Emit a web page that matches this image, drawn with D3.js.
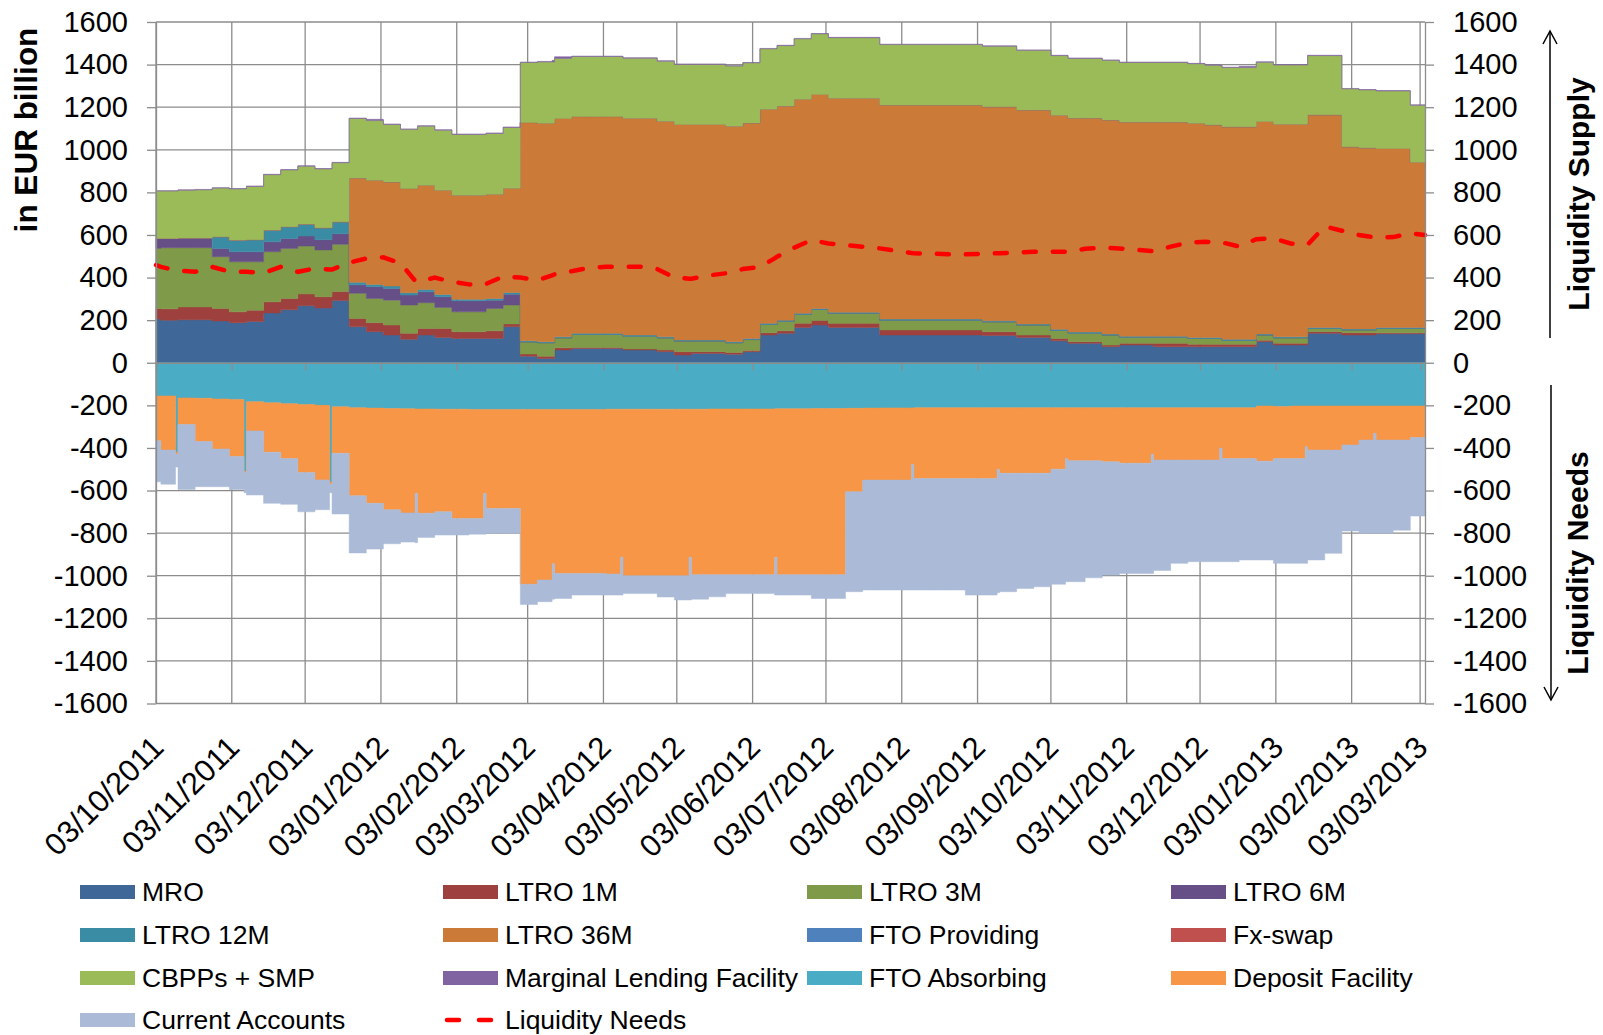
<!DOCTYPE html>
<html>
  <head>
    <meta charset="utf-8">
    <title>Eurosystem liquidity supply and liquidity needs</title>
    <script src="https://d3js.org/d3.v7.min.js"></script>
    <style>
      body { margin: 0; background: #fff; }
      text { font-family: Arial, "Liberation Sans", sans-serif; fill: #000; }
      .grid line { stroke: #8c8c8c; stroke-width: 1.3; }
      .axis path, .axis line { stroke: #8c8c8c; stroke-width: 1.3; }
      .axis text { font-size: 29px; }
      .legend text { font-size: 26.5px; }
    </style>
  </head>
  <body>
    <div id="chart"></div>
    <script>

      // one row per weekly MRO settlement, plus the last day of each maintenance period
      var dates = [
        "2011-10-03","2011-10-05","2011-10-11","2011-10-12","2011-10-19","2011-10-26","2011-11-02","2011-11-08","2011-11-09","2011-11-16",
        "2011-11-23","2011-11-30","2011-12-07","2011-12-13","2011-12-14","2011-12-21","2011-12-28","2012-01-04","2012-01-11","2012-01-17",
        "2012-01-18","2012-01-25","2012-02-01","2012-02-08","2012-02-14","2012-02-15","2012-02-22","2012-02-29","2012-03-07","2012-03-13",
        "2012-03-14","2012-03-21","2012-03-28","2012-04-04","2012-04-10","2012-04-11","2012-04-18","2012-04-25","2012-05-02","2012-05-08",
        "2012-05-09","2012-05-16","2012-05-23","2012-05-30","2012-06-06","2012-06-12","2012-06-13","2012-06-20","2012-06-27","2012-07-04",
        "2012-07-11","2012-07-18","2012-07-25","2012-08-01","2012-08-07","2012-08-08","2012-08-15","2012-08-22","2012-08-29","2012-09-05",
        "2012-09-11","2012-09-12","2012-09-19","2012-09-26","2012-10-03","2012-10-09","2012-10-10","2012-10-17","2012-10-24","2012-10-31",
        "2012-11-07","2012-11-13","2012-11-14","2012-11-21","2012-11-28","2012-12-05","2012-12-11","2012-12-12","2012-12-19","2012-12-26",
        "2013-01-02","2013-01-09","2013-01-15","2013-01-16","2013-01-23","2013-01-30","2013-02-06","2013-02-12","2013-02-13","2013-02-20",
        "2013-02-27","2013-03-05"
      ];

      var mro = [
        205,200,200,202,202,196,188,188,194,234,
        249,268,257,257,292,169,146,130,110,110,
        130,119,114,114,114,114,169,31,20,20,
        60,67,67,67,67,60,60,52,36,36,
        44,44,40,52,130,130,138,166,177,166,
        166,166,130,130,130,130,130,130,130,128,
        128,128,119,119,103,103,91,91,75,83,
        83,83,75,75,75,75,75,75,75,99,
        83,83,83,138,138,130,130,130,136,136,
        136,136
      ];

      var ltro1m = [
        50,53,53,60,60,59,51,51,53,52,
        53,55,53,53,42,39,42,47,28,28,
        31,42,32,32,32,36,13,10,10,10,
        10,5,5,5,5,5,5,8,16,16,
        8,8,8,6,11,11,12,19,21,19,
        19,19,24,24,24,24,24,24,24,18,
        18,18,11,11,11,11,8,8,8,8,
        8,8,16,16,12,12,12,12,12,7,
        9,9,9,8,8,11,11,11,5,5,
        5,5
      ];

      var ltro3m = [
        282,287,287,278,278,243,235,235,227,235,
        235,225,220,220,222,118,114,117,133,133,
        121,99,93,93,93,105,89,57,64,64,
        47,61,61,61,61,60,60,57,50,50,
        50,50,46,51,39,39,45,42,52,47,
        47,47,46,46,46,46,46,46,46,46,
        46,46,47,47,38,38,40,40,47,29,
        29,29,29,29,27,27,27,18,18,24,
        25,25,25,15,15,13,13,13,20,20,
        20,20
      ];

      var ltro6m = [
        47,44,44,46,46,39,47,47,47,47,
        47,47,48,48,50,40,55,55,47,47,
        51,50,52,52,52,39,51,0,0,0,
        0,0,0,0,0,0,0,0,0,0,
        0,0,0,0,0,0,0,0,0,0,
        0,0,0,0,0,0,0,0,0,0,
        0,0,0,0,0,0,0,0,0,0,
        0,0,0,0,0,0,0,0,0,0,
        0,0,0,0,0,0,0,0,0,0,
        0,0
      ];

      var ltro12m = [
        0,0,0,0,0,55,55,55,57,55,
        55,56,56,56,56,12,11,11,11,11,
        11,11,7,7,7,8,8,5,5,5,
        5,5,5,5,5,5,5,5,5,5,
        5,5,5,5,5,5,5,5,5,5,
        5,5,5,5,5,5,5,5,5,5,
        5,5,5,5,5,5,5,5,5,5,
        5,5,5,5,5,5,5,5,5,5,
        5,5,5,5,5,5,5,5,5,5,
        5,5
      ];

      var ltro36m = [
        0,0,0,0,0,0,0,0,0,0,
        0,0,0,0,0,489,489,489,489,489,
        489,489,489,489,489,489,489,1025,1025,1025,
        1025,1018,1018,1018,1018,1018,1018,1012,1012,1012,
        1012,1012,1012,1012,1005,1005,1005,1005,1005,1005,
        1005,1005,1005,1005,1005,1005,1005,1005,1005,1005,
        1005,1005,1005,1005,1005,1005,1005,1005,1005,1005,
        1005,1005,1005,1005,1005,998,998,998,998,998,
        998,998,998,998,998,855,850,850,840,840,
        775,775
      ];

      var ftoProviding = [
        0,0,0,0,0,0,0,0,0,0,
        0,0,0,0,0,0,0,0,0,0,
        0,0,0,0,0,0,0,0,0,0,
        0,0,0,0,0,0,0,0,0,0,
        0,0,0,0,0,0,0,0,0,0,
        0,0,0,0,0,0,0,0,0,0,
        0,0,0,0,0,0,0,0,0,0,
        0,0,0,0,0,0,0,0,0,0,
        0,0,0,0,0,0,0,0,0,0,
        0,0
      ];

      var fxSwap = [
        0,0,0,0,0,0,0,0,0,0,
        0,0,0,0,0,0,0,0,0,0,
        0,0,0,0,0,0,0,0,0,0,
        0,0,0,0,0,0,0,0,0,0,
        0,0,0,0,0,0,0,0,0,0,
        0,0,0,0,0,0,0,0,0,0,
        0,0,0,0,0,0,0,0,0,0,
        0,0,0,0,0,0,0,0,0,0,
        0,0,0,0,0,0,0,0,0,0,
        0,0
      ];

      var cbppSmp = [
        222,222,222,224,226,228,240,240,250,260,
        266,272,276,276,277,280,280,270,278,278,
        278,282,285,285,285,286,286,282,288,288,
        282,282,282,282,282,282,282,282,282,282,
        282,282,282,282,284,284,284,284,284,284,
        284,284,284,284,284,284,284,284,284,284,
        284,284,280,280,280,280,280,280,280,280,
        280,280,280,280,280,280,278,278,278,278,
        278,278,278,278,278,272,272,272,270,270,
        268,268
      ];

      var mlf = [
        2,2,2,2,2,2,2,2,2,2,
        2,2,2,2,2,2,6,2,2,2,
        2,2,2,2,2,2,2,2,3,8,
        8,2,2,2,2,2,2,2,2,2,
        2,2,2,2,2,2,2,2,2,2,
        2,2,2,2,2,2,2,2,2,2,
        2,2,2,2,2,2,2,2,2,2,
        2,2,2,2,2,2,2,2,6,2,
        2,2,2,2,2,2,2,2,2,2,
        2,2
      ];

      var ftoAbsorbing = [
        -156,-156,-420,-165,-167,-170,-173,-510,-183,-188,
        -192,-196,-200,-560,-207,-211,-213,-215,-216,-217,
        -217,-218,-218,-219,-219,-219,-219,-219,-219,-219,
        -219,-219,-219,-218,-218,-218,-218,-218,-218,-218,
        -218,-217,-217,-217,-217,-216,-216,-216,-215,-215,
        -214,-213,-212,-212,-212,-211,-211,-211,-211,-211,
        -211,-211,-211,-211,-211,-211,-211,-211,-211,-211,
        -211,-211,-211,-211,-211,-211,-211,-211,-211,-203,
        -205,-203,-203,-203,-203,-203,-203,-203,-203,-203,
        -203,-203
      ];

      var depositFacility = [
        -210,-254,-10,-125,-203,-235,-267,-5,-137,-232,
        -258,-319,-350,-10,-218,-414,-447,-475,-489,-396,
        -490,-482,-513,-512,-394,-465,-465,-821,-801,-725,
        -770,-770,-770,-774,-695,-782,-782,-782,-782,-695,
        -777,-778,-778,-778,-778,-697,-779,-779,-780,-780,
        -392,-338,-339,-339,-266,-333,-333,-333,-333,-333,
        -289,-308,-308,-308,-289,-239,-249,-249,-254,-261,
        -261,-219,-246,-246,-246,-246,-189,-239,-239,-259,
        -245,-247,-191,-207,-207,-183,-160,-128,-160,-160,
        -148,-148
      ];

      var currentAccounts = [
        -193,-160,-60,-305,-212,-177,-155,-95,-301,-240,
        -215,-185,-140,-40,-285,-268,-215,-160,-137,-232,
        -113,-109,-78,-74,-192,-117,-117,-95,-102,-166,
        -118,-102,-102,-99,-178,-84,-84,-100,-114,-201,
        -115,-104,-89,-89,-89,-178,-96,-96,-112,-112,
        -469,-516,-516,-516,-589,-523,-523,-523,-547,-547,
        -580,-556,-541,-533,-540,-578,-568,-550,-532,-518,
        -518,-560,-518,-485,-477,-477,-534,-484,-476,-464,
        -492,-492,-548,-516,-485,-404,-438,-470,-438,-423,
        -369,-369
      ];

      var liquidityNeeds = [
        459,450,435,433,427,450,428,427,427,422,
        450,427,443,438,438,470,490,495,467,385,
        380,400,380,368,365,370,405,400,388,410,
        415,430,445,451,451,451,451,440,400,395,
        395,410,420,440,450,490,498,540,576,560,
        553,545,537,525,515,514,512,510,509,512,
        514,514,518,521,521,521,521,535,540,537,
        530,525,525,545,564,568,565,565,546,580,
        585,560,555,555,640,620,600,590,588,590,
        608,600
      ];

      var monthLabels = [
        "03/10/2011","03/11/2011","03/12/2011","03/01/2012","03/02/2012","03/03/2012",
        "03/04/2012","03/05/2012","03/06/2012","03/07/2012","03/08/2012","03/09/2012",
        "03/10/2012","03/11/2012","03/12/2012","03/01/2013","03/02/2013","03/03/2013"
      ];

      var yTicks = [-1600,-1400,-1200,-1000,-800,-600,-400,-200,0,200,400,600,800,1000,1200,1400,1600];

      var seriesNames = ["MRO","LTRO 1M","LTRO 3M","LTRO 6M","LTRO 12M","LTRO 36M","FTO Providing","Fx-swap",
        "CBPPs + SMP","Marginal Lending Facility","FTO Absorbing","Deposit Facility","Current Accounts"];
      var seriesColors = ["#3f6899","#9e413e","#7f9a48","#664f87","#3a8ca5","#cc7a38","#4f81bd","#c0504d",
        "#9bbb59","#8064a2","#4bacc6","#f79646","#aabad7"];
      var seriesValues = [mro, ltro1m, ltro3m, ltro6m, ltro12m, ltro36m, ftoProviding, fxSwap,
        cbppSmp, mlf, ftoAbsorbing, depositFacility, currentAccounts];

      var width = 1603,
        height = 1035;

      var parseDay = d3.utcParse("%Y-%m-%d"),
        parseLabel = d3.utcParse("%d/%m/%Y");

      var svg = d3.select("#chart")
        .append("svg")
          .attr("width", width)
          .attr("height", height);

      var x = d3.scaleUtc()
        .domain([parseDay("2011-10-03"), parseDay("2013-03-05")])
        .range([156, 1425]);

      var y = d3.scaleLinear()
        .domain([-1600, 1600])
        .range([703.5, 22]);

      var tickDates = monthLabels.map(parseLabel);

      // grid
      var grid = svg.append("g").attr("class", "grid");
      grid.selectAll(".h")
        .data(yTicks)
        .enter().append("line")
          .attr("x1", 156).attr("x2", 1425)
          .attr("y1", (d) => y(d)).attr("y2", (d) => y(d));
      grid.selectAll(".v")
        .data(tickDates)
        .enter().append("line")
          .attr("x1", (d) => x(d)).attr("x2", (d) => x(d))
          .attr("y1", y(1600)).attr("y2", y(-1600));

      // stacked areas
      var table = dates.map((d, i) => {
        var row = { date: parseDay(d) };
        seriesNames.forEach((name, k) => { row[name] = seriesValues[k][i]; });
        return row;
      });

      var layers = d3.stack()
        .keys(seriesNames)
        .offset(d3.stackOffsetDiverging)(table);

      /* d3 parks empty values at zero; move them onto the stack edge so the
         step edges do not draw slivers down to the axis */
      table.forEach((row, j) => {
        var top = 0, bottom = 0;
        layers.forEach((layer, k) => {
          var p = layer[j];
          if (p[0] == p[1]) {
            p[0] = p[1] = (k < 10) ? top : bottom;
          } else if (k < 10) {
            top = p[1];
          } else {
            bottom = p[0];
          }
        });
      });

      var area = d3.area()
        .curve(d3.curveStepAfter)
        .x((d) => x(d.data.date))
        .y0((d) => y(d[0]))
        .y1((d) => y(d[1]));

      svg.append("g")
        .selectAll("path")
        .data(layers)
        .enter().append("path")
          .attr("d", area)
          .style("fill", (d, i) => seriesColors[i])
          .style("stroke", (d, i) => seriesColors[i])
          .style("stroke-width", 0.5);

      // liquidity needs
      var line = d3.line()
        .x((d, i) => x(parseDay(dates[i])))
        .y((d) => y(d));

      svg.append("path")
        .datum(liquidityNeeds)
        .attr("d", line)
        .style("fill", "none")
        .style("stroke", "#ff0000")
        .style("stroke-width", 4.5)
        .style("stroke-linecap", "round")
        .style("stroke-dasharray", "12,17");

      // axes
      var fmt = (d) => String(d);

      svg.append("g")
        .attr("class", "axis")
        .attr("transform", "translate(156,0)")
        .call(d3.axisLeft(y).tickValues(yTicks).tickFormat(fmt).tickSize(9).tickSizeOuter(0).tickPadding(19));

      svg.append("g")
        .attr("class", "axis")
        .attr("transform", "translate(1425,0)")
        .call(d3.axisRight(y).tickValues(yTicks).tickFormat(fmt).tickSize(9).tickSizeOuter(0).tickPadding(19));

      svg.append("g")
        .attr("class", "axis")
        .attr("transform", "translate(0," + y(0) + ")")
        .call(d3.axisBottom(x).tickValues(tickDates).tickSize(8).tickSizeOuter(0).tickFormat(""));

      svg.append("g")
        .selectAll("text")
        .data(tickDates)
        .enter().append("text")
          .attr("transform", (d) => "translate(" + (x(d) - 6) + ",734) rotate(-45)")
          .attr("text-anchor", "end")
          .attr("dy", "0.7em")
          .style("font-size", "31px")
          .text((d, i) => monthLabels[i]);

      // titles
      svg.append("text")
        .attr("transform", "translate(37,130) rotate(-90)")
        .attr("text-anchor", "middle")
        .style("font-size", "31.5px")
        .style("font-weight", "bold")
        .text("in EUR billion");

      svg.append("text")
        .attr("transform", "translate(1589,194) rotate(-90)")
        .attr("text-anchor", "middle")
        .style("font-size", "30px")
        .style("font-weight", "bold")
        .text("Liquidity Supply");

      svg.append("text")
        .attr("transform", "translate(1588,563) rotate(-90)")
        .attr("text-anchor", "middle")
        .style("font-size", "30px")
        .style("font-weight", "bold")
        .text("Liquidity Needs");

      // arrows
      var arrows = svg.append("g")
        .style("stroke", "#000")
        .style("stroke-width", 1.5)
        .style("fill", "none");
      arrows.append("line").attr("x1", 1550).attr("x2", 1550).attr("y1", 338).attr("y2", 31);
      arrows.append("path").attr("d", "M1543,44L1550,31L1557,44");
      arrows.append("line").attr("x1", 1551).attr("x2", 1551).attr("y1", 385).attr("y2", 700);
      arrows.append("path").attr("d", "M1544,687L1551,700L1558,687");

      // legend
      var legendNames = seriesNames.concat(["Liquidity Needs"]);
      var colX = [80, 443, 807, 1171],
        rowY = [892, 935, 978, 1020];

      var legend = svg.append("g")
        .attr("class", "legend")
        .selectAll("g")
        .data(legendNames)
        .enter().append("g")
          .attr("transform", (d, i) => "translate(" + colX[i % 4] + "," + rowY[Math.floor(i / 4)] + ")");

      legend.filter((d, i) => i < seriesNames.length)
        .append("rect")
          .attr("x", 0)
          .attr("y", -7)
          .attr("width", 55)
          .attr("height", 14)
          .style("fill", (d, i) => seriesColors[i]);

      legend.filter((d) => d == "Liquidity Needs")
        .append("path")
          .attr("d", "M4,0L16,0M36,0L48,0")
          .style("stroke", "#ff0000")
          .style("stroke-width", 4.5)
          .style("stroke-linecap", "round");

      legend.append("text")
        .attr("x", 62)
        .attr("dy", "0.35em")
        .text((d) => d);

    </script>
  </body>
</html>
